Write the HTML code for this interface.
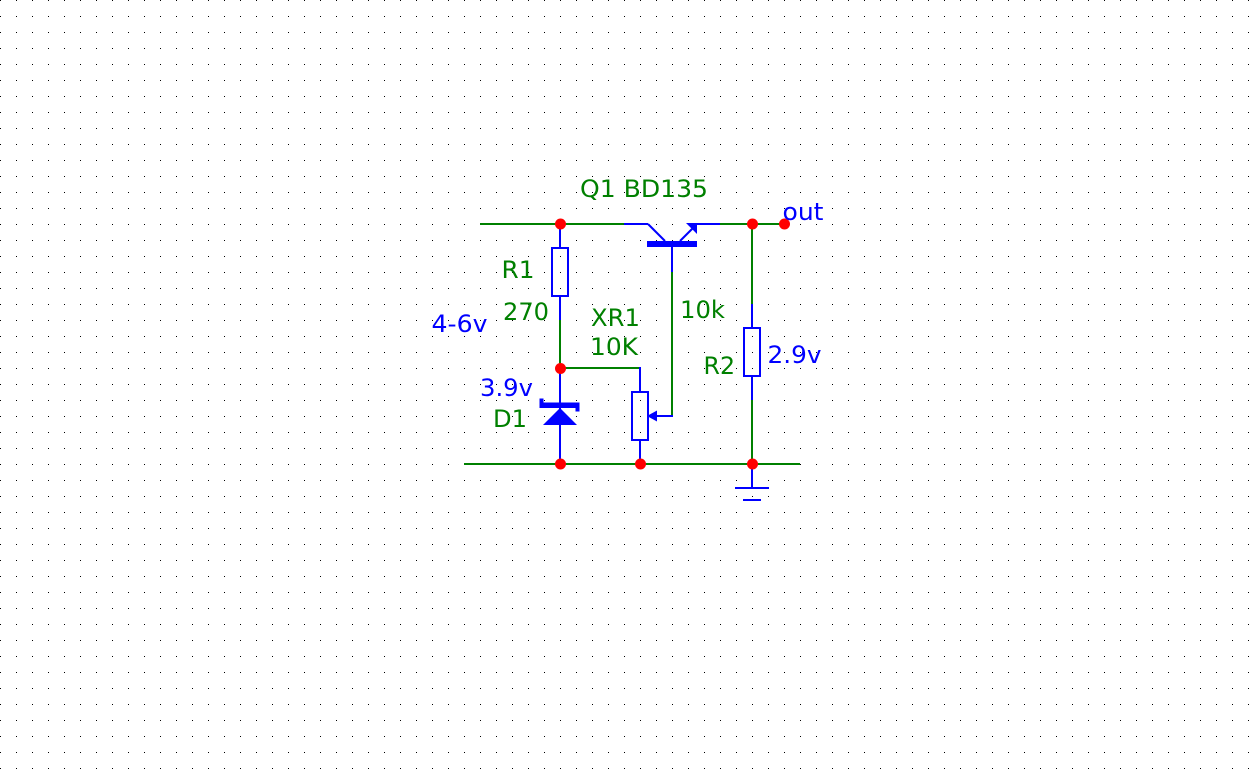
<!DOCTYPE html>
<html>
<head>
<meta charset="utf-8">
<style>
  html, body { margin: 0; padding: 0; background: #ffffff; }
  body { width: 1251px; height: 779px; overflow: hidden; }
  svg { display: block; }
  text { font-family: "DejaVu Sans", "Liberation Sans", sans-serif; font-size: 24px; }
  .g { fill: #008000; }
  .b { fill: #0000ff; }
</style>
</head>
<body>
<svg width="1251" height="779" viewBox="0 0 1251 779" xmlns="http://www.w3.org/2000/svg">
  <defs>
    <pattern id="grid" x="0" y="0" width="16" height="16" patternUnits="userSpaceOnUse">
      <rect x="0" y="0" width="1" height="1" fill="#000000"/>
    </pattern>
  </defs>
  <rect x="0" y="0" width="1251" height="779" fill="#ffffff"/>
  <rect x="0" y="0" width="1251" height="779" fill="url(#grid)"/>

  <!-- Green wires -->
  <g stroke="#008000" stroke-width="2" fill="none">
    <line x1="480" y1="224" x2="624" y2="224"/>
    <line x1="720" y1="224" x2="784" y2="224"/>
    <line x1="464" y1="464" x2="800" y2="464"/>
    <line x1="560" y1="320" x2="560" y2="368"/>
    <line x1="560" y1="368" x2="640" y2="368"/>
    <line x1="672" y1="272" x2="672" y2="417"/>
    <line x1="752" y1="224" x2="752" y2="304"/>
    <line x1="752" y1="400" x2="752" y2="464"/>
  </g>

  <!-- Blue component parts -->
  <g stroke="#0000ff" stroke-width="2" fill="none">
    <line x1="560" y1="224" x2="560" y2="248"/>
    <rect x="552" y="248" width="16" height="48"/>
    <line x1="560" y1="296" x2="560" y2="320"/>
    <line x1="560" y1="368" x2="560" y2="464"/>
    <line x1="640" y1="367" x2="640" y2="392"/>
    <rect x="632" y="392" width="16" height="48"/>
    <line x1="640" y1="440" x2="640" y2="464"/>
    <line x1="656" y1="416" x2="673" y2="416"/>
    <line x1="624" y1="224" x2="648" y2="224"/>
    <line x1="648" y1="224" x2="665" y2="241"/>
    <line x1="672" y1="247" x2="672" y2="272"/>
    <line x1="680" y1="241" x2="694" y2="227"/>
    <line x1="696" y1="224" x2="720" y2="224"/>
    <line x1="752" y1="304" x2="752" y2="328"/>
    <rect x="744" y="328" width="16" height="48"/>
    <line x1="752" y1="376" x2="752" y2="400"/>
    <line x1="752" y1="464" x2="752" y2="488"/>
    <line x1="735" y1="488" x2="769" y2="488"/>
    <line x1="743" y1="500" x2="761" y2="500"/>
  </g>

  <!-- Filled blue shapes -->
  <g fill="#0000ff" stroke="none">
    <rect x="647" y="241" width="50" height="6"/>
    <polygon points="686,223 697,223 697,234"/>
    <polygon points="647,416 657,410.5 657,421.5"/>
    <rect x="539.5" y="402.5" width="40" height="5.5"/>
    <rect x="539.5" y="398.5" width="4" height="9.5"/>
    <rect x="575.5" y="402.5" width="4" height="9"/>
    <polygon points="560,408 543,425 577,425"/>
  </g>

  <!-- Junction dots -->
  <g fill="#ff0000">
    <circle cx="560.5" cy="224" r="5.5"/>
    <circle cx="752.5" cy="224" r="5.5"/>
    <circle cx="784.5" cy="224" r="5.5"/>
    <circle cx="560.5" cy="368.5" r="5.5"/>
    <circle cx="560.5" cy="464" r="5.5"/>
    <circle cx="640.5" cy="464" r="5.5"/>
    <circle cx="752.5" cy="464" r="5.5"/>
  </g>

  <!-- Labels -->
  <text class="g" x="580" y="197" textLength="128" lengthAdjust="spacingAndGlyphs">Q1 BD135</text>
  <text class="b" x="782.5" y="220" textLength="41" lengthAdjust="spacingAndGlyphs">out</text>
  <text class="g" x="501.5" y="278" textLength="33" lengthAdjust="spacingAndGlyphs">R1</text>
  <text class="g" x="503" y="320" textLength="46" lengthAdjust="spacingAndGlyphs">270</text>
  <text class="b" x="431.5" y="332" textLength="56" lengthAdjust="spacingAndGlyphs">4-6v</text>
  <text class="g" x="591" y="326" textLength="49" lengthAdjust="spacingAndGlyphs">XR1</text>
  <text class="g" x="590" y="355" textLength="48" lengthAdjust="spacingAndGlyphs">10K</text>
  <text class="g" x="680" y="318" textLength="45" lengthAdjust="spacingAndGlyphs">10k</text>
  <text class="g" x="703.5" y="374" textLength="31.5" lengthAdjust="spacingAndGlyphs">R2</text>
  <text class="b" x="767.5" y="363" textLength="54" lengthAdjust="spacingAndGlyphs">2.9v</text>
  <text class="b" x="480" y="396" textLength="53" lengthAdjust="spacingAndGlyphs">3.9v</text>
  <text class="g" x="493" y="427" textLength="34" lengthAdjust="spacingAndGlyphs">D1</text>
</svg>
</body>
</html>
